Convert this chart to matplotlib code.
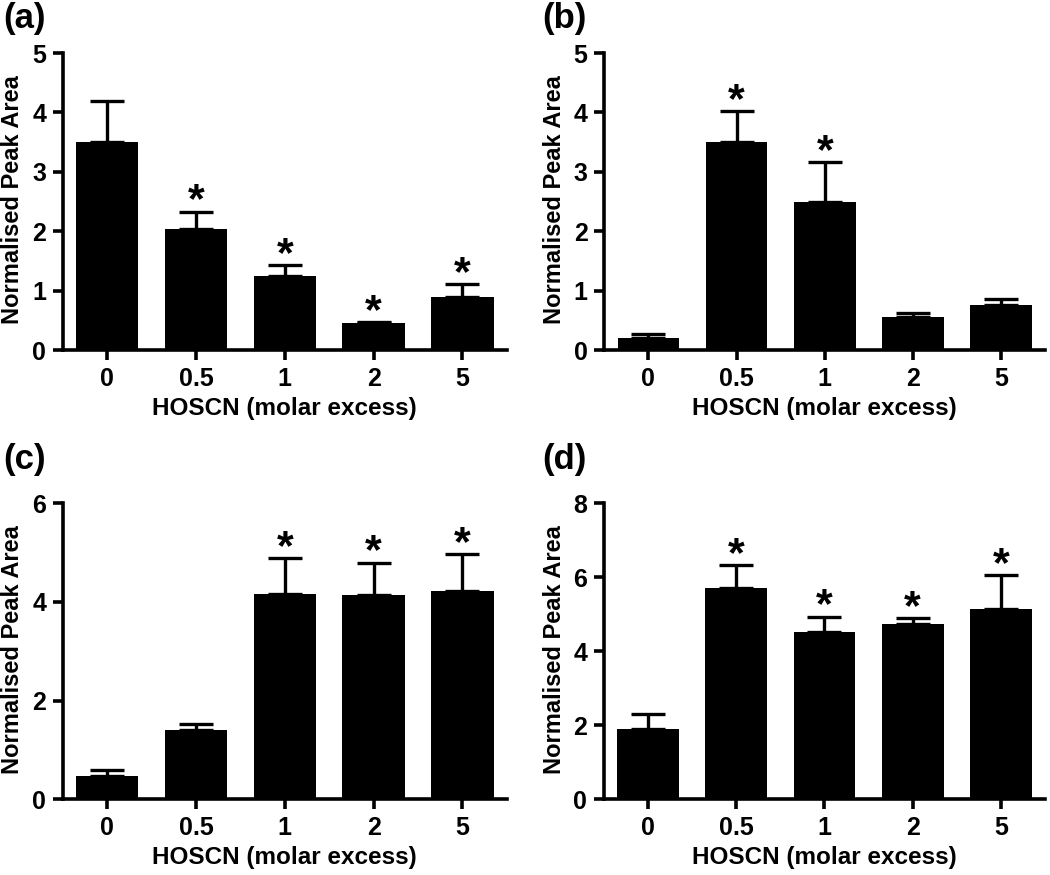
import numpy as np
import matplotlib
matplotlib.use('Agg')
import matplotlib.pyplot as plt

plt.rcParams['font.family'] = ['Liberation Sans', 'DejaVu Sans']
plt.rcParams['font.weight'] = 'bold'

doses = ['0', '0.5', '1', '2', '5']

# mean and upper error (SEM)
mean_a = [3.51, 2.03, 1.25, 0.46, 0.90]
err_a = [0.69, 0.30, 0.18, 0.01, 0.21]
sig_a = [False, True, True, True, True]

mean_b = [0.20, 3.51, 2.50, 0.55, 0.75]
err_b = [0.07, 0.51, 0.66, 0.07, 0.11]
sig_b = [False, True, True, False, False]

mean_c = [0.47, 1.41, 4.16, 4.14, 4.23]
err_c = [0.12, 0.11, 0.73, 0.66, 0.74]
sig_c = [False, False, True, True, True]

mean_d = [1.89, 5.72, 4.53, 4.74, 5.14]
err_d = [0.41, 0.61, 0.41, 0.15, 0.91]
sig_d = [False, True, True, True, True]

panels = [
    ('(a)', mean_a, err_a, sig_a, 5, 1, [0.0597, 0.600, 0.423, 0.3394]),
    ('(b)', mean_b, err_b, sig_b, 5, 1, [0.5755, 0.600, 0.420, 0.3394]),
    ('(c)', mean_c, err_c, sig_c, 6, 2, [0.0597, 0.0865, 0.423, 0.3383]),
    ('(d)', mean_d, err_d, sig_d, 8, 2, [0.5752, 0.0865, 0.420, 0.3383]),
]
label_pos = {'(a)': (0.003, 0.998), '(b)': (0.516, 0.998),
             '(c)': (0.003, 0.494), '(d)': (0.516, 0.494)}

fig = plt.figure(figsize=(10.5, 8.75), dpi=100)

for name, mean, err, sig, ymax, ystep, rect in panels:
    ax = fig.add_axes(rect)
    x = np.arange(len(doses))
    ax.bar(x, mean, width=0.7, color='black')
    ax.errorbar(x, mean, yerr=[np.zeros(len(err)), err], fmt='none',
                ecolor='black', elinewidth=2.4, capsize=12, capthick=2.4)
    for xi, m, e, s in zip(x, mean, err, sig):
        if s:
            ax.annotate('*', (xi, m + e), xytext=(0, -7), textcoords='offset points',
                        ha='center', va='bottom', fontsize=31, fontweight='bold')
    ax.set_xlim(-0.5, 4.5)
    ax.set_ylim(0, ymax)
    ax.set_yticks(np.arange(0, ymax + 0.1, ystep))
    ax.set_xticks(x)
    ax.set_xticklabels(doses)
    for sp in ['top', 'right']:
        ax.spines[sp].set_visible(False)
    for sp in ['left', 'bottom']:
        ax.spines[sp].set_linewidth(2.6)
    ax.tick_params(width=2.6, length=7, labelsize=18, pad=5)
    ax.set_xlabel('HOSCN (molar excess)', fontsize=17.5, fontweight='bold')
    ax.set_ylabel('Normalised Peak Area', fontsize=17, fontweight='bold')
    ax.xaxis.set_label_coords(0.5, -0.197)
    ax.xaxis.label.set_va('center')
    ax.yaxis.set_label_coords(-0.112, 0.505)
    ax.yaxis.label.set_va('center')
    lx, ly = label_pos[name]
    fig.text(lx, ly, name, ha='left', va='top', fontsize=25, fontweight='bold')

fig.savefig('out.png', dpi=100)
